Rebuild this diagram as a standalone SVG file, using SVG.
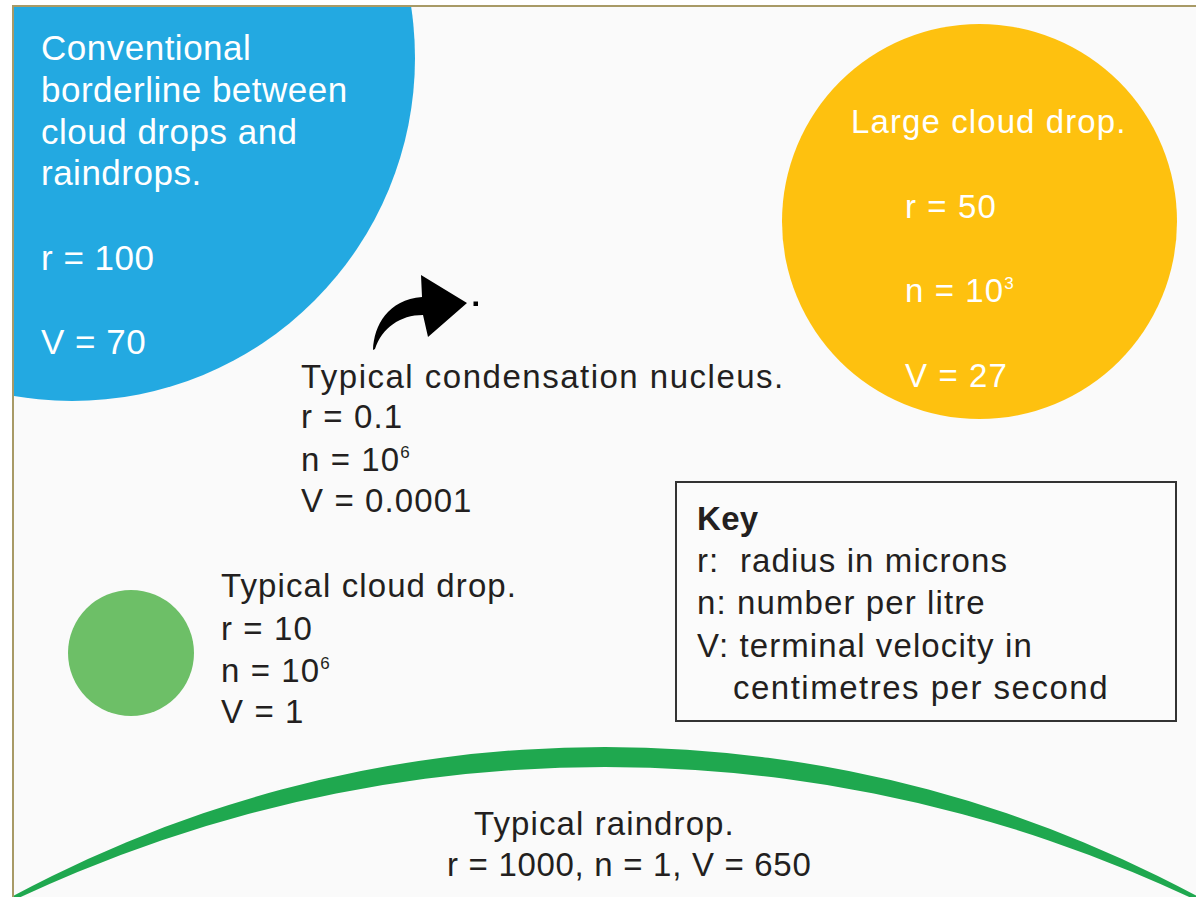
<svg xmlns="http://www.w3.org/2000/svg" width="1196" height="897" viewBox="0 0 1196 897">
  <defs>
    <style>
      .t { font-family: "Liberation Sans", Arial, sans-serif; font-size: 33px; letter-spacing: 1.1px; fill: #231f20; }
      .w { fill: #ffffff; }
      .big { font-size: 35px; letter-spacing: 0.5px; }
      .b { font-weight: bold; letter-spacing: 0.3px; }
      .sup { font-size: 17px; letter-spacing: 0; }
      .wide { letter-spacing: 1.5px; }
      .tight { letter-spacing: 0.7px; }
      .frame { fill: none; stroke: #a89a66; stroke-width: 2; }
    </style>
    <clipPath id="panel">
      <rect x="14" y="7" width="1182" height="890"/>
    </clipPath>
  </defs>

  <!-- page and panel background -->
  <rect x="0" y="0" width="1196" height="897" fill="#ffffff"/>
  <rect x="13" y="6" width="1183" height="891" fill="#fafafa"/>

  <!-- conventional borderline drop -->
  <g id="borderline-drop">
    <circle cx="72" cy="58" r="343" fill="#23a9e1" clip-path="url(#panel)"/>
    <text class="t w big" x="41" y="60">Conventional</text>
    <text class="t w big" x="41" y="102">borderline between</text>
    <text class="t w big" x="41" y="144">cloud drops and</text>
    <text class="t w big" x="41" y="185">raindrops.</text>
    <text class="t w big" x="41" y="270">r = 100</text>
    <text class="t w big" x="41" y="354">V = 70</text>
  </g>

  <!-- large cloud drop -->
  <g id="large-cloud-drop">
    <circle cx="979.5" cy="221.5" r="197.5" fill="#fec10f"/>
    <text class="t w" x="851" y="133">Large cloud drop.</text>
    <text class="t w" x="905" y="218">r = 50</text>
    <text class="t w" x="905" y="302">n = 10<tspan class="sup" dy="-13">3</tspan></text>
    <text class="t w" x="905" y="387">V = 27</text>
  </g>

  <!-- condensation nucleus -->
  <g id="condensation-nucleus">
    <rect x="473.5" y="301.5" width="4.5" height="4.5" fill="#000000"/>
    <text class="t wide" x="301" y="388">Typical condensation nucleus.</text>
    <text class="t" x="301" y="428">r = 0.1</text>
    <text class="t" x="301" y="471">n = 10<tspan class="sup" dy="-13">6</tspan></text>
    <text class="t" x="301" y="512">V = 0.0001</text>
  </g>

  <!-- typical cloud drop -->
  <g id="cloud-drop">
    <circle cx="131" cy="653" r="63" fill="#6dbf67"/>
    <text class="t" x="221" y="597">Typical cloud drop.</text>
    <text class="t" x="221" y="640">r = 10</text>
    <text class="t" x="221" y="682">n = 10<tspan class="sup" dy="-13">6</tspan></text>
    <text class="t" x="221" y="723">V = 1</text>
  </g>

  <!-- typical raindrop: thin crescent of a very large drop -->
  <g id="raindrop">
    <path clip-path="url(#panel)" fill="#1fa84f" fill-rule="evenodd"
          d="M605,747 A1250,1250 0 1,1 604.9,747 Z M605,767 A1378,1378 0 1,1 604.9,767 Z"/>
    <text class="t" x="474" y="835">Typical raindrop.</text>
    <text class="t tight" x="447" y="876">r = 1000, n = 1, V = 650</text>
  </g>

  <!-- key -->
  <g id="key">
    <rect x="676" y="482" width="500" height="239" fill="#fbfbfb" stroke="#333333" stroke-width="2"/>
    <text class="t b" x="697" y="530">Key</text>
    <text class="t" x="697" y="572" xml:space="preserve">r:  radius in microns</text>
    <text class="t" x="697" y="614">n: number per litre</text>
    <text class="t" x="697" y="657">V: terminal velocity in</text>
    <text class="t wide" x="733" y="699">centimetres per second</text>
  </g>

  <!-- pointer to the nucleus -->
  <g id="connectors">
    <path fill="#000000" d="M373,350 C374,325 388,300 422,297 L421,275 L467,303 L428,337 L423,315 C400,315 382,328 375,349 Z"/>
  </g>

  <!-- panel frame (left and top edges) -->
  <path class="frame" d="M13,897 L13,6 L1196,6"/>
</svg>
